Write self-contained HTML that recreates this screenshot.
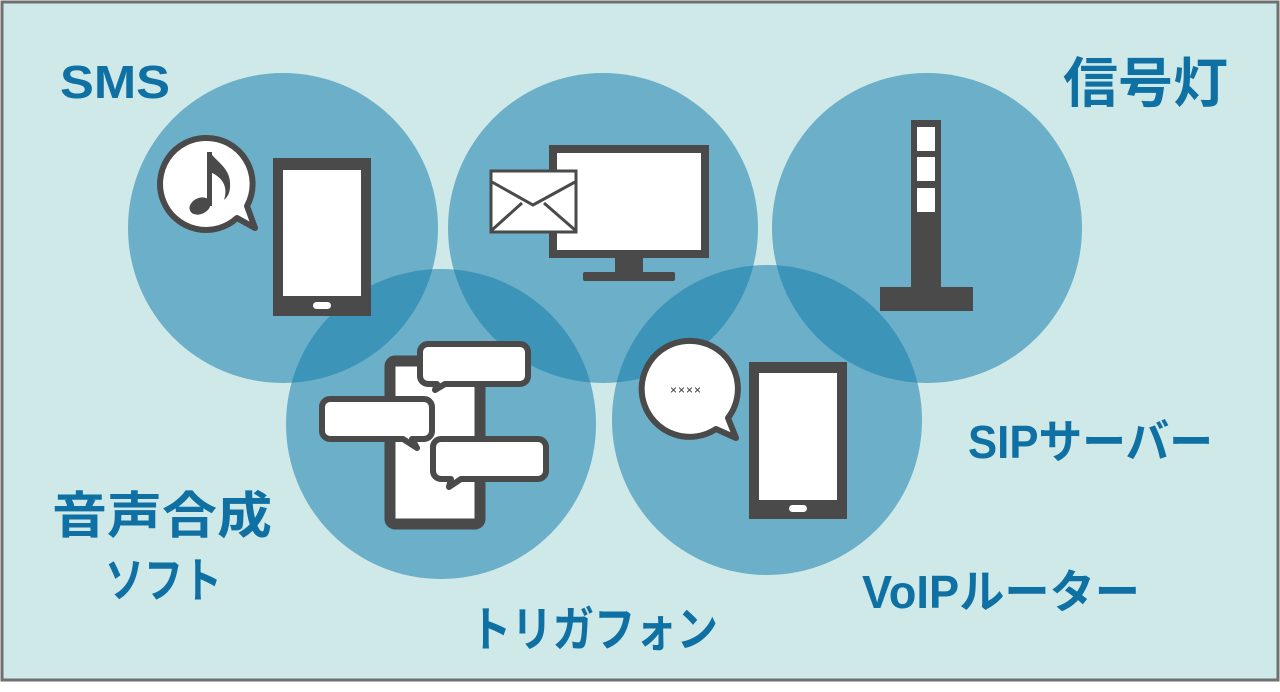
<!DOCTYPE html>
<html><head><meta charset="utf-8"><style>
html,body{margin:0;padding:0;background:#fff;}
svg{display:block;}
text{font-family:"Liberation Sans","Noto Sans CJK JP",sans-serif;font-weight:bold;fill:#0f70a3;}
</style></head><body>
<svg width="1280" height="692" viewBox="0 0 1280 692" xmlns="http://www.w3.org/2000/svg">
<rect x="2" y="2" width="1276" height="678" fill="#cfe8e8" stroke="#6f6f6f" stroke-width="3"/>
<g fill="rgb(18,125,172)" fill-opacity="0.535">
<circle cx="283" cy="228" r="155"/>
<circle cx="603" cy="228" r="155"/>
<circle cx="927" cy="228" r="155"/>
<circle cx="441" cy="424" r="155"/>
<circle cx="767" cy="420" r="155"/>
</g>
<g stroke="#4a4a4a" fill="#fff">
<!-- SMS phone -->
<rect x="273" y="158" width="98" height="158" fill="#4a4a4a" stroke="none"/>
<rect x="283" y="170" width="78" height="126" stroke="none"/>
<rect x="313" y="302" width="18" height="7" rx="3.5" stroke="none"/>
<!-- music bubble -->
<path d="M205 138 a46 46 0 1 0 32 80 l18 10 -8 -22 a46 46 0 0 0 -42 -68z" stroke-width="6" stroke-linejoin="round"/>
<!-- monitor -->
<rect x="553" y="149" width="152" height="105" stroke-width="8"/>
<rect x="615" y="258" width="28" height="14" fill="#4a4a4a" stroke="none"/>
<rect x="583" y="272" width="92" height="9" rx="2" fill="#4a4a4a" stroke="none"/>
<!-- envelope -->
<rect x="491" y="171" width="85" height="61" stroke-width="3"/>
<path d="M492 182 L533 205 L575 182 M492 230 L522 203 M575 230 L544 203" fill="none" stroke-width="3"/>
<!-- signal tower -->
<rect x="911" y="120" width="30" height="170" fill="#4a4a4a" stroke="none"/>
<rect x="880" y="287" width="93" height="24" fill="#4a4a4a" stroke="none"/>
<rect x="917" y="127" width="18" height="24" stroke="none"/>
<rect x="917" y="157" width="18" height="24" stroke="none"/>
<rect x="917" y="188" width="18" height="24" stroke="none"/>
<!-- trigger phone -->
<rect x="390" y="361" width="90" height="163" rx="5" stroke-width="11"/>
<path d="M428 344 h92 a8 8 0 0 1 8 8 v24 a8 8 0 0 1 -8 8 h-75 l-10 6 2 -6 h-9 a8 8 0 0 1 -8 -8 v-24 a8 8 0 0 1 8 -8z" stroke-width="6" stroke-linejoin="round"/>
<path d="M330 399 h94 a8 8 0 0 1 8 8 v24 a8 8 0 0 1 -8 8 h-12 l5 9 -14 -9 h-73 a8 8 0 0 1 -8 -8 v-24 a8 8 0 0 1 8 -8z" stroke-width="6" stroke-linejoin="round"/>
<path d="M441 439 h97 a8 8 0 0 1 8 8 v24 a8 8 0 0 1 -8 8 h-77 l-12 8 2 -8 h-10 a8 8 0 0 1 -8 -8 v-24 a8 8 0 0 1 8 -8z" stroke-width="6" stroke-linejoin="round"/>
<!-- VoIP bubble -->
<path d="M686 341 a48 48 0 1 0 30 88 l20 9 -8 -20 a48 48 0 0 0 -42 -77z" stroke-width="6" stroke-linejoin="round"/>
<!-- VoIP phone -->
<rect x="749" y="362" width="98" height="157" fill="#4a4a4a" stroke="none"/>
<rect x="759" y="373" width="78" height="127" stroke="none"/>
<rect x="789" y="505" width="18" height="7" rx="3.5" stroke="none"/>
</g>
<!-- music note -->
<g fill="#4a4a4a">
<ellipse cx="200" cy="206" rx="11" ry="8" transform="rotate(-25 200 206)"/>
<rect x="207" y="152" width="5" height="54"/>
<path d="M210 152 c6 10 22 16 20 36 c-1 8 -4 10 -6 12 c4 -12 0 -22 -14 -28z"/>
</g>
<text x="686" y="394" font-size="12" style="fill:#333;font-weight:normal" text-anchor="middle" letter-spacing="1">××××</text>
<text x="60" y="98" font-size="46" textLength="110" lengthAdjust="spacingAndGlyphs">SMS</text>
<text x="1063" y="102" font-size="54" textLength="165" lengthAdjust="spacingAndGlyphs">信号灯</text>
<text x="968" y="458" font-size="46" textLength="245" lengthAdjust="spacingAndGlyphs">SIPサーバー</text>
<text x="862" y="608" font-size="46" textLength="278" lengthAdjust="spacingAndGlyphs">VoIPルーター</text>
<text x="470" y="646" font-size="48" textLength="248" lengthAdjust="spacingAndGlyphs">トリガフォン</text>
<text x="52" y="533" font-size="50" textLength="220" lengthAdjust="spacingAndGlyphs">音声合成</text>
<text x="105" y="597" font-size="48" textLength="117" lengthAdjust="spacingAndGlyphs">ソフト</text>
</svg>
</body></html>
